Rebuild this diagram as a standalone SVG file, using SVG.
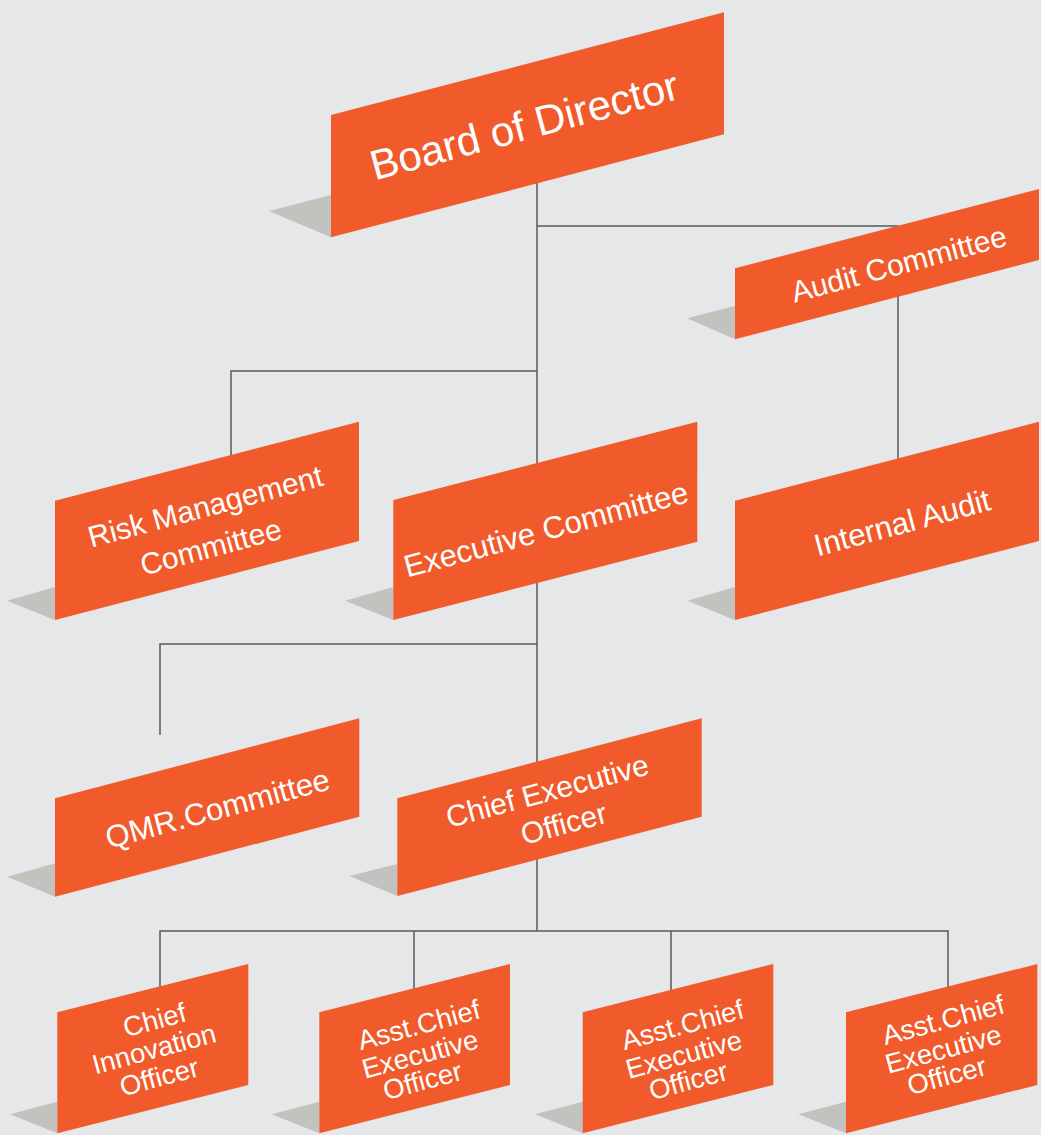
<svg xmlns="http://www.w3.org/2000/svg" width="1041" height="1135" viewBox="0 0 1041 1135">
<style>
.bg{fill:#E6E7E8}
.box{fill:#F15A2B}
.sh{fill:#C2C2BE}
.ln{fill:none;stroke:#58595B;stroke-width:1.5}
text{font-family:"Liberation Sans",Arial,Helvetica,sans-serif;fill:#FFFFFF;text-anchor:middle}
.t42{font-size:42px}
.t31{font-size:31px}
.t30{font-size:30px}
.t27{font-size:27.5px}
</style>
<rect class="bg" x="0" y="0" width="1041" height="1135"/>
<g id="connectors">
<path class="ln" d="M537,170 V480"/>
<path class="ln" d="M537,226 H898 V470"/>
<path class="ln" d="M537,371 H231 V470"/>
<path class="ln" d="M537,570 V775"/>
<path class="ln" d="M537,644 H160 V735"/>
<path class="ln" d="M537,850 V931"/>
<path class="ln" d="M160,995 V931 H948 V995"/>
<path class="ln" d="M414,931 V995"/>
<path class="ln" d="M671,931 V995"/>
</g>
<g id="board">
<polygon class="sh" points="331,195 269,211 331,237.3"/>
<polygon class="box" points="331,115 724,12.3 724,134.3 331,237.3"/>
<text class="t42" x="528" y="139.5" transform="rotate(-15 528 139.5)">Board of Director</text>
</g>
<g id="audit">
<polygon class="sh" points="735,306 687,318.3 735,339.3"/>
<polygon class="box" points="735,268.3 1039,189 1039,260 735,339.3"/>
<text class="t30" x="901.5" y="274" transform="rotate(-15 901.5 274)">Audit Committee</text>
</g>
<g id="risk">
<polygon class="sh" points="55,587 7,600.7 55,620"/>
<polygon class="box" points="55,500.7 359,421.7 359,541 55,620"/>
<text class="t30" x="208" y="516.5" transform="rotate(-15 208 516.5)">Risk Management</text>
<text class="t30" x="213.5" y="557" transform="rotate(-15 213.5 557)">Committee</text>
</g>
<g id="exec">
<polygon class="sh" points="393.3,587 345,600.7 393.3,620"/>
<polygon class="box" points="393.3,500 697.3,421.7 697.3,541.7 393.3,620"/>
<text class="t31" x="548.7" y="539.6" transform="rotate(-15 548.7 539.6)">Executive Committee</text>
</g>
<g id="internal">
<polygon class="sh" points="735,587 687.3,600.7 735,620"/>
<polygon class="box" points="735,500.7 1039,421.7 1039,541 735,620"/>
<text class="t31" x="905" y="533" transform="rotate(-15 905 533)">Internal Audit</text>
</g>
<g id="qmr">
<polygon class="sh" points="55,863.3 7.3,876.7 55,896.7"/>
<polygon class="box" points="55,798.3 359.3,718.3 359.3,816.7 55,896.7"/>
<text class="t31" x="220.3" y="818.8" transform="rotate(-15 220.3 818.8)">QMR.Committee</text>
</g>
<g id="ceo">
<polygon class="sh" points="397.3,864 349.3,876 397.3,896"/>
<polygon class="box" points="397.3,798.3 701.7,718.3 701.7,816.7 397.3,896"/>
<text class="t30" x="550" y="801" transform="rotate(-15 550 801)">Chief Executive</text>
<text class="t30" x="566.4" y="833.6" transform="rotate(-15 566.4 833.6)">Officer</text>
</g>
<g id="cio">
<polygon class="sh" points="57.3,1101.7 10,1114.3 57.3,1133.3"/>
<polygon class="box" points="57.3,1012.3 248.3,964 248.3,1085 57.3,1133.3"/>
<text class="t27" x="157" y="1029" transform="rotate(-15 157 1029)">Chief</text>
<text class="t27" x="156.5" y="1058" transform="rotate(-15 156.5 1058)">Innovation</text>
<text class="t27" x="161.7" y="1086" transform="rotate(-15 161.7 1086)">Officer</text>
</g>
<g id="asst1">
<polygon class="sh" points="319.3,1101.7 271.7,1114.3 319.3,1133.3"/>
<polygon class="box" points="319.3,1012.3 510,964 510,1085 319.3,1133.3"/>
<text class="t27" x="421.3" y="1034" transform="rotate(-15 421.3 1034)">Asst.Chief</text>
<text class="t27" x="422.5" y="1063.3" transform="rotate(-15 422.5 1063.3)">Executive</text>
<text class="t27" x="425" y="1089.8" transform="rotate(-15 425 1089.8)">Officer</text>
</g>
<g id="asst2">
<polygon class="sh" points="582.7,1101.7 535,1114.3 582.7,1133.3"/>
<polygon class="box" points="582.7,1012.3 773.3,964 773.3,1085 582.7,1133.3"/>
<text class="t27" x="685" y="1034" transform="rotate(-15 685 1034)">Asst.Chief</text>
<text class="t27" x="686.3" y="1063.7" transform="rotate(-15 686.3 1063.7)">Executive</text>
<text class="t27" x="690.8" y="1089.8" transform="rotate(-15 690.8 1089.8)">Officer</text>
</g>
<g id="asst3">
<polygon class="sh" points="846,1101.7 798.3,1114.3 846,1133.3"/>
<polygon class="box" points="846,1012.3 1037.3,964 1037.3,1085 846,1133.3"/>
<text class="t27" x="945.7" y="1029" transform="rotate(-15 945.7 1029)">Asst.Chief</text>
<text class="t27" x="945.8" y="1058.3" transform="rotate(-15 945.8 1058.3)">Executive</text>
<text class="t27" x="949.2" y="1084.8" transform="rotate(-15 949.2 1084.8)">Officer</text>
</g>
</svg>
